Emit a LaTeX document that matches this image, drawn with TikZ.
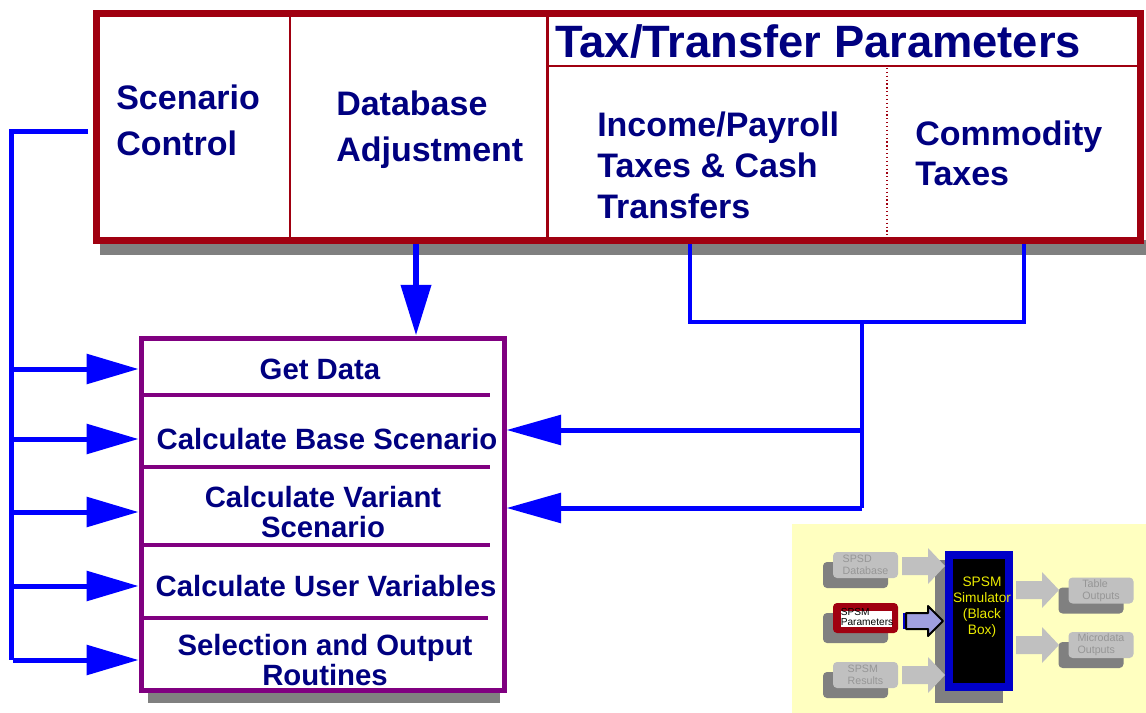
\documentclass[tikz,border=0pt]{standalone}
\usepackage{fontspec}
\setmainfont{Liberation Sans}
\usetikzlibrary{arrows.meta,shadows}

\definecolor{boxred}{RGB}{160,0,16}
\definecolor{navytext}{RGB}{0,0,128}
\definecolor{purp}{RGB}{128,0,128}
\definecolor{linkblue}{RGB}{0,0,255}
\definecolor{simblue}{RGB}{0,0,200}
\definecolor{shgray}{RGB}{128,128,128}
\definecolor{lgray}{RGB}{192,192,192}
\definecolor{txtgray}{RGB}{150,150,150}
\definecolor{paleyellow}{RGB}{255,255,192}
\definecolor{arrowfill}{RGB}{160,160,224}
\definecolor{simyellow}{RGB}{235,235,0}

\tikzset{
  bigtxt/.style={anchor=west, inner sep=0pt, text=navytext, align=left,
    font=\bfseries\fontsize{25.5}{34.5}\selectfont},
  rowtxt/.style={inner sep=0pt, text=navytext, align=center,
    font=\bfseries\fontsize{22}{23}\selectfont},
  link/.style={draw=linkblue, line width=3.75pt},
  linkarrow/.style={link, -{Triangle[length=39pt,width=22pt]}},
  bracket/.style={draw=linkblue, line width=2.75pt},
  rowsep/.style={draw=purp, line width=3.4pt},
  gbox/.style={rounded corners=3pt, fill=lgray, text=txtgray, align=left,
    inner sep=0pt, minimum width=48.75pt, minimum height=19.5pt,
    font=\fontsize{8}{9}\selectfont,
    drop shadow={shadow xshift=-7.5pt, shadow yshift=-7.5pt, opacity=1, fill=shgray}},
  blkarrow/.pic={\fill (0,-9) -- (26,-9) -- (26,-18) -- (43,0) -- (26,18) -- (26,9) -- (0,9) -- cycle;},
}

\begin{document}
\begin{tikzpicture}[x=0.75pt,y=-0.75pt]
\useasboundingbox (0,0) rectangle (1146,713);

% shadows
\fill[shgray] (100,240) rectangle (1146,255);
\fill[shgray] (148,690) rectangle (500,703);

% top box
\node[draw=boxred, line width=5.25pt, minimum width=783pt, minimum height=169.5pt, inner sep=0pt] (params) at (618,127) {};
\draw[boxred, line width=1.5pt] (290,14) -- (290,240);
\draw[boxred, line width=2.25pt] (547,14) -- (547,240);
\draw[boxred, line width=1.5pt] (547,66) -- (1140,66);
\draw[boxred, dotted, line width=0.9pt] (887,68) -- (887,238);

\node[bigtxt] (scen) at (116,120) {Scenario\\Control};
\node[bigtxt] (dbadj) at (336,130) {Database\\Adjustment};
\node[bigtxt, font=\bfseries\fontsize{34}{40}\selectfont] (ttp) at (555,42) {Tax/Transfer Parameters};
\node[bigtxt, font=\bfseries\fontsize{25.5}{30.75}\selectfont] (income) at (597,165) {Income/Payroll\\Taxes \& Cash\\Transfers};
\node[bigtxt, font=\bfseries\fontsize{25.5}{30}\selectfont] (commod) at (915,153) {Commodity\\Taxes};

% routines box
\node[draw=purp, line width=3.75pt, minimum width=272.25pt, minimum height=264pt, inner sep=0pt] (frame) at (322.5,514) {};
\foreach \yy/\xx in {395/490,467/490,545/490,618/488}
  \draw[rowsep] (141,\yy) -- (\xx,\yy);

\node[rowtxt] (getdata) at (320,369) {Get Data};
\node[rowtxt] (base) at (327,439) {Calculate Base Scenario};
\node[rowtxt] (variant) at (323,512) {Calculate Variant\\Scenario};
\node[rowtxt] (uservar) at (326,586) {Calculate User Variables};
\node[rowtxt] (select) at (325,660) {Selection and Output\\Routines};

% scenario control links
\coordinate (sc) at (88,132);
\draw[link] (sc) -- (11,132) -- (11,0 |- select);
\foreach \r in {getdata,base,variant,uservar,select}
  \draw[linkarrow] (13,0 |- \r) -- (\r -| frame.west);

% database adjustment link
\draw[link, line width=4.5pt, -{Triangle[length=38pt,width=22pt]}] (416,244) -- (416,0 |- frame.north);

% tax/transfer links
\coordinate (inc) at (690,244);
\coordinate (com) at (1024,244);
\coordinate (hub) at (862,322);
\draw[bracket] (inc) -- (inc |- hub) -- (com |- hub) -- (com);
\draw[bracket] (hub) -- (862,508);
\draw[link, -{Triangle[length=41pt,width=22pt]}] (862,430) -- (frame.east |- 0,430);
\draw[link, -{Triangle[length=41pt,width=22pt]}] (862,508) -- (frame.east |- 0,508);

% inset
\fill[paleyellow] (792,524) rectangle (1146,713);
\fill[shgray] (935,560) rectangle (1003,703);

\node[gbox] (spsd) at (865.5,565) {SPSD\\Database};
\node[gbox] (results) at (865.5,675) {SPSM\\Results};
\node[gbox] (table) at (1101,590.5) {Table\\Outputs};
\node[gbox] (micro) at (1101,645) {Microdata\\Outputs};

\node[gbox, fill=boxred, minimum height=22.5pt] (spsmpar) at (865.5,618) {};
\fill[white] (841,611) rectangle (892,627);
\node[inner sep=0pt, align=left, font=\fontsize{7.6}{7.6}\selectfont] at (867,617) {SPSM\\Parameters};

\node[draw=simblue, line width=6pt, fill=black, minimum width=45pt, minimum height=99pt, inner sep=0pt] (sim) at (979,621) {};
\node[text=simyellow, align=center, inner sep=0pt, font=\fontsize{10.3}{12}\selectfont] (simtxt) at (982,607) {SPSM\\Simulator\\(Black\\Box)};

\pic[color=lgray] at (902,566) {blkarrow};
\pic[color=lgray] at (902,675) {blkarrow};
\pic[color=lgray] at (1016,590) {blkarrow};
\pic[color=lgray] at (1016,645) {blkarrow};

\fill[simblue] (903,613) rectangle (908,629);
\draw[fill=arrowfill, line width=1.5pt, line join=round] (906,613) -- (928,613) -- (928,606) -- (943,621) -- (928,636) -- (928,629) -- (906,629) -- cycle;

\end{tikzpicture}
\end{document}
